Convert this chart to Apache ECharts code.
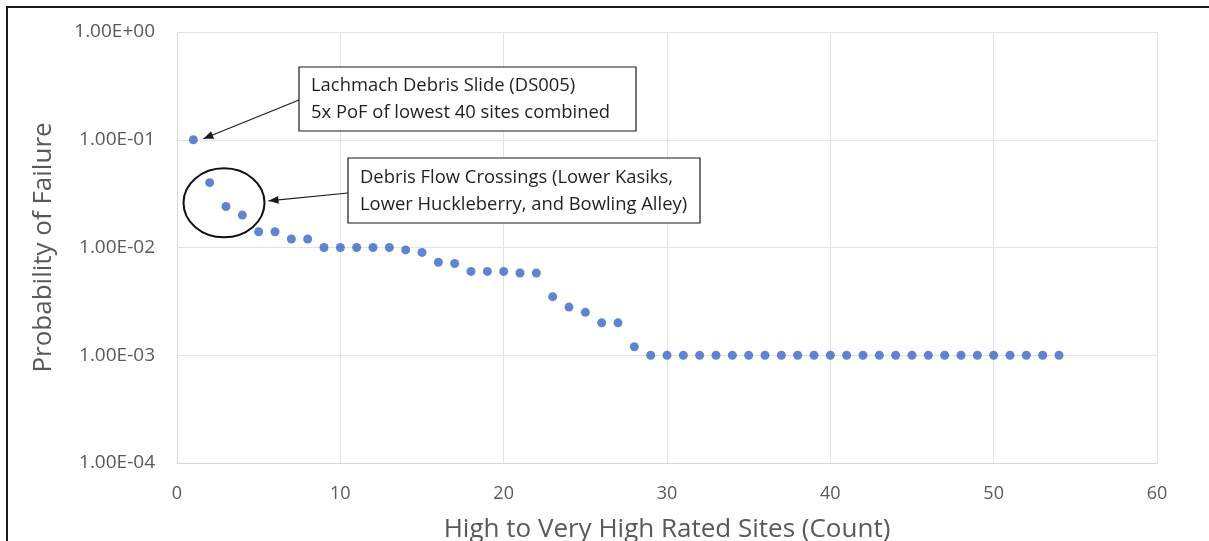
<!DOCTYPE html>
<html>
<head>
<meta charset="utf-8">
<script src="https://cdn.jsdelivr.net/npm/echarts@6/dist/echarts.min.js"></script>
<style>
  html, body { margin: 0; padding: 0; background: #fff; width: 1209px; height: 541px; overflow: hidden; }
  #chart { position: absolute; left: 0; top: 0; width: 1209px; height: 541px; }
  #frame { position: absolute; left: 6px; top: 6px; width: 1220px; height: 560px; border: 2px solid #1a1a1a; box-sizing: border-box; pointer-events: none; }
</style>
</head>
<body>
<div id="chart"></div>
<div id="frame"></div>
<script>
// Site rank (count) and probability of failure for each high / very high rated site
const siteCount = [
  1, 2, 3, 4, 5, 6, 7, 8, 9, 10,
  11, 12, 13, 14, 15, 16, 17, 18, 19, 20,
  21, 22, 23, 24, 25, 26, 27, 28, 29, 30,
  31, 32, 33, 34, 35, 36, 37, 38, 39, 40,
  41, 42, 43, 44, 45, 46, 47, 48, 49, 50,
  51, 52, 53, 54
];
const probFailure = [
  0.1, 0.04, 0.024, 0.02, 0.014, 0.014, 0.012, 0.012, 0.01, 0.01,
  0.01, 0.01, 0.01, 0.0095, 0.009, 0.0073, 0.0071, 0.006, 0.006, 0.006,
  0.0058, 0.0058, 0.0035, 0.0028, 0.0025, 0.002, 0.002, 0.0012, 0.001, 0.001,
  0.001, 0.001, 0.001, 0.001, 0.001, 0.001, 0.001, 0.001, 0.001, 0.001,
  0.001, 0.001, 0.001, 0.001, 0.001, 0.001, 0.001, 0.001, 0.001, 0.001,
  0.001, 0.001, 0.001, 0.001
];
const xTicks = [0, 10, 20, 30, 40, 50, 60];
const yTicks = ['1.00E-04', '1.00E-03', '1.00E-02', '1.00E-01', '1.00E+00'];

const slideNote = ['Lachmach Debris Slide (DS005)', '5x PoF of lowest 40 sites combined'];
const crossingNote = ['Debris Flow Crossings (Lower Kasiks,', 'Lower Huckleberry, and Bowling Alley)'];
const slideSite = 0;             // index of the flagged slide
const crossingSites = [1, 2, 3]; // indices of the circled crossings

const FONT = '"Open Sans", "DejaVu Sans", sans-serif';
const AXIS_GREY = '#595959';

function sciLabel(v) {
  const e = Math.round(Math.log10(v));
  const label = yTicks[e + 4];
  return label !== undefined ? label : '';
}

const chart = echarts.init(document.getElementById('chart'), null, { renderer: 'canvas' });

chart.setOption({
  animation: false,
  backgroundColor: '#ffffff',
  grid: { left: 177, right: 52, top: 32, bottom: 78, containLabel: false, outerBoundsMode: 'none' },
  xAxis: {
    type: 'value',
    min: xTicks[0],
    max: xTicks[xTicks.length - 1],
    interval: 10,
    name: 'High to Very High Rated Sites (Count)',
    nameLocation: 'middle',
    nameGap: 54,
    nameTextStyle: { color: AXIS_GREY, fontSize: 26, fontFamily: FONT },
    axisLine: { show: true, lineStyle: { color: '#d9d9d9', width: 1 } },
    axisTick: { show: false },
    axisLabel: { color: AXIS_GREY, fontSize: 18, fontFamily: FONT, margin: 22 },
    splitLine: { show: true, lineStyle: { color: '#e3e3e3', width: 1 } }
  },
  yAxis: {
    type: 'log',
    logBase: 10,
    min: 1e-4,
    max: 1,
    name: 'Probability of Failure',
    nameLocation: 'middle',
    nameGap: 120,
    nameTextStyle: { color: AXIS_GREY, fontSize: 26, fontFamily: FONT },
    axisLine: { show: true, lineStyle: { color: '#d9d9d9', width: 1 } },
    axisTick: { show: false },
    axisLabel: { color: AXIS_GREY, fontSize: 19, fontFamily: FONT, margin: 22, formatter: sciLabel },
    splitLine: { show: true, lineStyle: { color: '#e3e3e3', width: 1 } }
  },
  series: [{
    type: 'scatter',
    symbol: 'circle',
    symbolSize: 9,
    itemStyle: { color: '#3866c4' },
    data: siteCount.map((n, i) => [n, probFailure[i]]),
    z: 3
  }]
});

// Callout annotations, anchored to the data points they describe
function px(i) {
  return chart.convertToPixel({ seriesIndex: 0 }, [siteCount[i], probFailure[i]]);
}

function arrowHead(tip, from, len, half) {
  const ang = Math.atan2(tip[1] - from[1], tip[0] - from[0]);
  const bx = tip[0] - Math.cos(ang) * len, by = tip[1] - Math.sin(ang) * len;
  const nx = -Math.sin(ang) * half, ny = Math.cos(ang) * half;
  return [[tip[0], tip[1]], [bx + nx, by + ny], [bx - nx, by - ny]];
}

const slidePt = px(slideSite);
const cPts = crossingSites.map(px);
const cx = (Math.min(...cPts.map(p => p[0])) + Math.max(...cPts.map(p => p[0]))) / 2 - 2;
const cy = (Math.min(...cPts.map(p => p[1])) + Math.max(...cPts.map(p => p[1]))) / 2 + 4;

const box1 = { x: 299, y: 67, w: 337, h: 64 };
const box2 = { x: 348, y: 158, w: 352, h: 65 };

const slideTip = [slidePt[0] + 10, slidePt[1] - 1];
const slideFrom = [box1.x, box1.y + 33];
const ellipseR = [40.5, 34.5];
const crossTip = [cx + ellipseR[0] + 4, cy - 2];
const crossFrom = [box2.x, box2.y + 35];

const noteText = { fontSize: 18.4, fontFamily: FONT, fill: '#1f1f1f', lineHeight: 27 };

chart.setOption({
  graphic: [
    { type: 'rect', shape: { x: box1.x, y: box1.y, width: box1.w, height: box1.h },
      style: { fill: '#fff', stroke: '#1a1a1a', lineWidth: 1.2 }, z: 10 },
    { type: 'text', x: box1.x + 12, y: box1.y + 5,
      style: Object.assign({ text: slideNote.join('\n') }, noteText), z: 11 },
    { type: 'line', shape: { x1: slideFrom[0], y1: slideFrom[1], x2: slideTip[0], y2: slideTip[1] },
      style: { stroke: '#1a1a1a', lineWidth: 1.2 }, z: 10 },
    { type: 'polygon', shape: { points: arrowHead(slideTip, slideFrom, 10, 4) },
      style: { fill: '#1a1a1a' }, z: 10 },

    { type: 'rect', shape: { x: box2.x, y: box2.y, width: box2.w, height: box2.h },
      style: { fill: '#fff', stroke: '#1a1a1a', lineWidth: 1.2 }, z: 10 },
    { type: 'text', x: box2.x + 12, y: box2.y + 6,
      style: Object.assign({ text: crossingNote.join('\n') }, noteText), z: 11 },
    { type: 'line', shape: { x1: crossFrom[0], y1: crossFrom[1], x2: crossTip[0], y2: crossTip[1] },
      style: { stroke: '#1a1a1a', lineWidth: 1.2 }, z: 10 },
    { type: 'polygon', shape: { points: arrowHead(crossTip, crossFrom, 10, 4) },
      style: { fill: '#1a1a1a' }, z: 10 },

    { type: 'ellipse', shape: { cx: cx, cy: cy, rx: ellipseR[0], ry: ellipseR[1] },
      style: { fill: 'none', stroke: '#111', lineWidth: 2 }, z: 10 }
  ]
});
</script>
</body>
</html>
